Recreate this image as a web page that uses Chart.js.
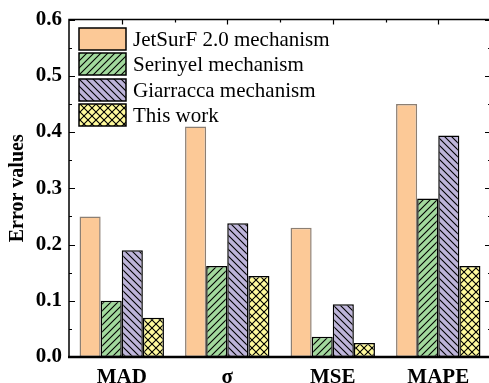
<!DOCTYPE html>
<html>
<head>
<meta charset="utf-8">
<script src="https://cdn.jsdelivr.net/npm/chart.js@4.4.1/dist/chart.umd.min.js"></script>
<style>
  html, body { margin: 0; padding: 0; background: #fff; overflow: hidden; }
  #wrap { position: relative; width: 495px; height: 383px; }
</style>
</head>
<body>
<div id="wrap"><canvas id="chart"></canvas></div>
<script>
// Error metrics for each mechanism
const categories = ['MAD', 'σ', 'MSE', 'MAPE'];
const seriesNames = ['JetSurF 2.0 mechanism', 'Serinyel mechanism', 'Giarracca mechanism', 'This work'];
const jetsurfValues = [0.25, 0.41, 0.23, 0.45];
const serinyelValues = [0.10, 0.162, 0.036, 0.282];
const giarraccaValues = [0.19, 0.238, 0.094, 0.394];
const thisWorkValues = [0.07, 0.144, 0.025, 0.162];
const yMin = 0, yMax = 0.6, yStep = 0.1;

const SERIF = "'Liberation Serif', 'Times New Roman', serif";

function makePattern(bg, kind, size) {
  const c = document.createElement('canvas');
  c.width = size; c.height = size;
  const g = c.getContext('2d');
  g.fillStyle = bg;
  g.fillRect(0, 0, size, size);
  g.strokeStyle = '#000';
  g.lineWidth = 1.1;
  const fwd = () => {
    g.beginPath();
    g.moveTo(-1, size + 1); g.lineTo(size + 1, -1);
    g.moveTo(-1, 1); g.lineTo(1, -1);
    g.moveTo(size - 1, size + 1); g.lineTo(size + 1, size - 1);
    g.stroke();
  };
  const back = () => {
    g.beginPath();
    g.moveTo(-1, -1); g.lineTo(size + 1, size + 1);
    g.moveTo(size - 1, -1); g.lineTo(size + 1, 1);
    g.moveTo(-1, size - 1); g.lineTo(1, size + 1);
    g.stroke();
  };
  if (kind === 'fwd' || kind === 'cross') fwd();
  if (kind === 'back' || kind === 'cross') back();
  return g.createPattern(c, 'repeat');
}

const fills = [
  '#fcc997',
  makePattern('#a2d99d', 'fwd', 7),
  makePattern('#bdb4d9', 'back', 7),
  makePattern('#fffa9c', 'cross', 8)
];
const barBorders = ['#8c7f73', '#000', '#000', '#000'];
const seriesValues = [jetsurfValues, serinyelValues, giarraccaValues, thisWorkValues];

// Frame with inward ticks on all four sides, plus the in-plot legend
const framePlugin = {
  id: 'frame',
  afterDraw(chart) {
    const ctx = chart.ctx;
    const a = chart.chartArea;
    const ys = chart.scales.y, xs = chart.scales.x;
    ctx.save();
    ctx.strokeStyle = '#000';
    // frame lines
    ctx.lineWidth = 1.5;
    ctx.beginPath();
    ctx.moveTo(a.left, a.bottom); ctx.lineTo(a.left, a.top);
    ctx.lineTo(a.right, a.top); ctx.lineTo(a.right, a.bottom);
    ctx.stroke();
    ctx.lineWidth = 2.5;
    ctx.beginPath();
    ctx.moveTo(a.left - 1, a.bottom); ctx.lineTo(a.right + 1, a.bottom);
    ctx.stroke();
    // y ticks (major + minor), left and right
    ctx.lineWidth = 1.2;
    ctx.beginPath();
    for (let v = yMin; v <= yMax + 1e-9; v += yStep / 2) {
      const major = Math.abs(Math.round(v / yStep) * yStep - v) < 1e-9;
      const len = major ? 6 : 3;
      const py = Math.round(ys.getPixelForValue(v)) + 0.5;
      ctx.moveTo(a.left, py); ctx.lineTo(a.left + len, py);
      ctx.moveTo(a.right, py); ctx.lineTo(a.right - len, py);
    }
    // top ticks: major at categories, minor between
    for (let i = 0; i < categories.length; i++) {
      const px = Math.round(xs.getPixelForValue(i)) + 0.5;
      ctx.moveTo(px, a.top); ctx.lineTo(px, a.top + 5);
      if (i > 0) {
        const mx = Math.round((xs.getPixelForValue(i) + xs.getPixelForValue(i - 1)) / 2) + 0.5;
        ctx.moveTo(mx, a.top); ctx.lineTo(mx, a.top + 3);
      }
    }
    ctx.stroke();

    // legend
    const lx = a.left + 10, ly0 = a.top + 8, bw = 47, bh = 22, pitch = 25.5;
    ctx.font = '21px ' + SERIF;
    ctx.textBaseline = 'middle';
    ctx.textAlign = 'left';
    chart.data.datasets.forEach((ds, i) => {
      const y = Math.round(ly0 + i * pitch);
      ctx.fillStyle = ds.backgroundColor;
      ctx.fillRect(lx, y, bw, bh);
      ctx.lineWidth = 1.5;
      ctx.strokeStyle = '#000';
      ctx.strokeRect(lx, y, bw, bh);
      ctx.fillStyle = '#000';
      ctx.fillText(ds.label, lx + bw + 7, y + bh / 2 + 1);
    });
    ctx.restore();
  }
};

new Chart(document.getElementById('chart'), {
  type: 'bar',
  data: {
    labels: categories,
    datasets: seriesNames.map((name, i) => ({
      label: name,
      data: seriesValues[i],
      backgroundColor: fills[i],
      borderColor: barBorders[i],
      borderWidth: 1.5,
      borderSkipped: false
    }))
  },
  options: {
    responsive: true,
    maintainAspectRatio: false,
    animation: false,
    layout: { padding: { top: 19, right: 4, left: 0, bottom: 0 } },
    datasets: { bar: { categoryPercentage: 0.8, barPercentage: 1.0 } },
    plugins: { legend: { display: false }, tooltip: { enabled: false } },
    scales: {
      x: {
        grid: { display: false, drawTicks: false },
        border: { display: false },
        ticks: { color: '#000', font: { family: SERIF, size: 21, weight: 'bold' }, padding: 8 },
        afterFit(scale) { scale.height = 26; }
      },
      y: {
        min: yMin, max: yMax,
        grid: { display: false, drawTicks: false },
        border: { display: false },
        ticks: {
          stepSize: yStep,
          color: '#000',
          font: { family: SERIF, size: 21, weight: 'bold' },
          padding: 7,
          callback: v => Number(v).toFixed(1)
        },
        title: {
          display: true,
          text: 'Error values',
          color: '#000',
          font: { family: SERIF, size: 20, weight: 'bold' },
          padding: { top: 6, bottom: 0 }
        },
        afterFit(scale) { scale.width = 69; }
      }
    }
  },
  plugins: [framePlugin]
});
</script>
</body>
</html>
